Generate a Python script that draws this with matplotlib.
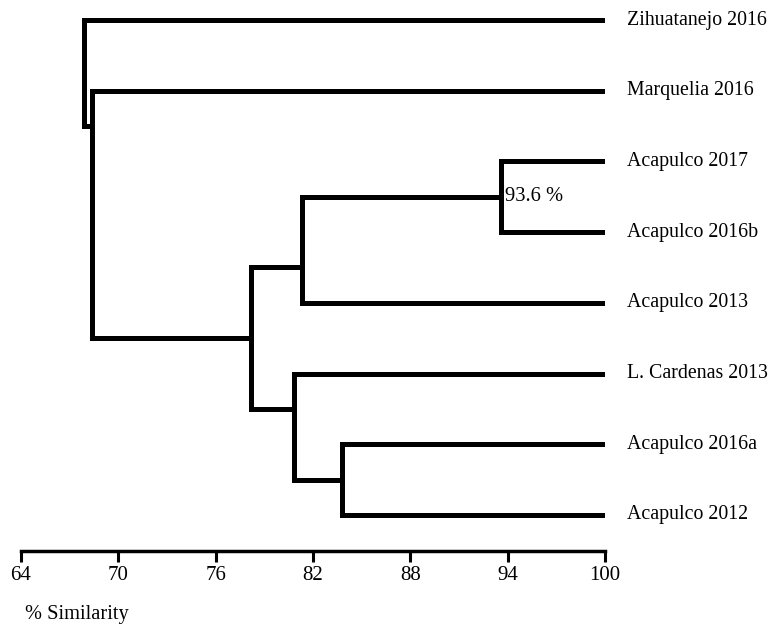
import matplotlib.pyplot as plt

plt.rcParams['font.family'] = ['Liberation Serif', 'DejaVu Serif']

# leaves, top to bottom
sites = ['Zihuatanejo 2016', 'Marquelia 2016', 'Acapulco 2017', 'Acapulco 2016b',
         'Acapulco 2013', 'L. Cardenas 2013', 'Acapulco 2016a', 'Acapulco 2012']

# clustering: (node name, child a, child b, % similarity)
merges = [
    ('n1', 'Acapulco 2017', 'Acapulco 2016b', 93.6),
    ('n2', 'n1', 'Acapulco 2013', 81.3),
    ('n3', 'Acapulco 2016a', 'Acapulco 2012', 83.8),
    ('n4', 'L. Cardenas 2013', 'n3', 80.8),
    ('n5', 'n2', 'n4', 78.2),
    ('n6', 'Marquelia 2016', 'n5', 68.4),
    ('root', 'Zihuatanejo 2016', 'n6', 67.9),
]
node_label = {'n1': '93.6 %'}

# rows where each cluster's stem leaves its bracket
stem_row = {'n2': 3.5, 'n4': 5.5, 'n6': 1.5}

xticks = [64, 70, 76, 82, 88, 94, 100]

fig = plt.figure(figsize=[7.74, 6.3], dpi=100)
ax = fig.add_axes([21 / 774, 79 / 630, 584 / 774, 541 / 630])

lw = 3.6
style = dict(color='black', linewidth=lw, solid_capstyle='projecting', solid_joinstyle='miter')

pos = {}
for i, s in enumerate(sites):
    pos[s] = (100.0, float(i))
    ax.annotate(s, (100, i), xytext=(16, 0), textcoords='offset points',
                ha='left', va='center', fontsize=14.3, annotation_clip=False)

for name, a, b, sim in merges:
    xa, ya = pos[a]
    xb, yb = pos[b]
    # horizontal arms from the children back to this node
    ax.plot([sim, xa], [ya, ya], **style)
    ax.plot([sim, xb], [yb, yb], **style)
    ax.plot([sim, sim], [ya, yb], **style)
    y = stem_row.get(name, (ya + yb) / 2)
    pos[name] = (sim, y)
    if name in node_label:
        ax.text(sim + 0.25, y, node_label[name], ha='left', va='center', fontsize=14.8)

ax.set_xlim(64, 100)
ax.set_ylim(7 + 36 / 70.7, -10 / 70.7)
ax.set_xticks(xticks)
ax.set_xticklabels([str(t) for t in xticks], fontsize=15)
ax.set_yticks([])
for side in ['top', 'right', 'left']:
    ax.spines[side].set_visible(False)
ax.spines['bottom'].set_linewidth(2.5)
ax.tick_params(axis='x', direction='out', length=8, width=2.2, pad=3)

fig.text(25 / 774, 1 - 615 / 630, '% Similarity', ha='left', va='center', fontsize=14.7)

fig.savefig('out.png', dpi=100)
